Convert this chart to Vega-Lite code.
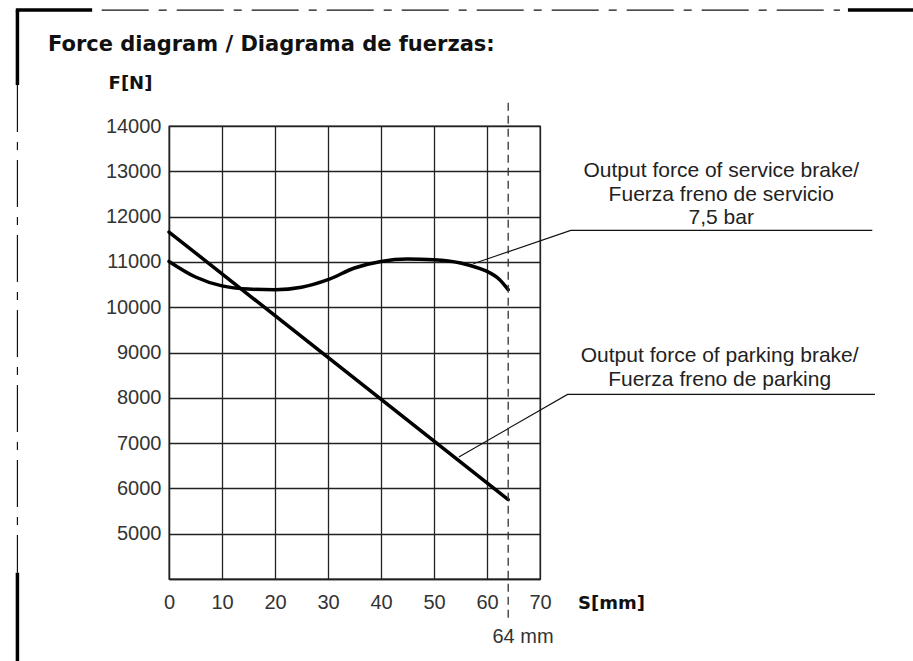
{
  "$schema": "https://vega.github.io/schema/vega-lite/v6.json",
  "autosize": "none",
  "width": 371,
  "height": 453,
  "padding": {"left": 169, "top": 126, "right": 373, "bottom": 82},
  "background": "white",
  "config": {
    "view": {"stroke": "#222", "strokeWidth": 1.3},
    "axis": {
      "labelFont": "Liberation Sans",
      "labelFontSize": 20,
      "labelColor": "#333",
      "labelFlush": false,
      "gridColor": "#222",
      "gridOpacity": 1,
      "gridWidth": 1.3,
      "domainColor": "#222",
      "domainWidth": 1.3,
      "ticks": false,
      "tickSize": 0,
      "titleFont": "DejaVu Sans",
      "titleFontSize": 18,
      "titleFontWeight": "bold",
      "titleColor": "#111"
    }
  },
  "title": {
    "text": "Force diagram / Diagrama de fuerzas:",
    "anchor": "start",
    "frame": "group",
    "dx": -121,
    "dy": 51,
    "font": "DejaVu Sans",
    "fontSize": 21,
    "fontWeight": "bold",
    "color": "#111"
  },
  "datasets": {
    "service": [
      {"s": 0, "f": 11010},
      {"s": 5, "f": 10667},
      {"s": 10, "f": 10470},
      {"s": 15, "f": 10400},
      {"s": 20, "f": 10385},
      {"s": 25, "f": 10440},
      {"s": 30, "f": 10607},
      {"s": 35, "f": 10865},
      {"s": 40, "f": 11011},
      {"s": 45, "f": 11064},
      {"s": 50, "f": 11049},
      {"s": 55, "f": 10976},
      {"s": 58.7, "f": 10850},
      {"s": 60, "f": 10790},
      {"s": 62.4, "f": 10607},
      {"s": 64, "f": 10386}
    ],
    "parking": [
      {"s": 0, "f": 11660},
      {"s": 64, "f": 5750}
    ],
    "leaders": [
      {"leader": "service", "ord": 1, "s": 57.4, "f": 10960},
      {"leader": "service", "ord": 2, "s": 75.8, "f": 11695},
      {"leader": "service", "ord": 3, "s": 132.7, "f": 11695},
      {"leader": "parking", "ord": 1, "s": 54.7, "f": 6693},
      {"leader": "parking", "ord": 2, "s": 75.2, "f": 8075},
      {"leader": "parking", "ord": 3, "s": 133.2, "f": 8075}
    ],
    "labels": [
      {"text": "Output force of service brake/", "s": 104.2, "f": 12998},
      {"text": "Fuerza freno de servicio", "s": 104.2, "f": 12483},
      {"text": "7,5 bar", "s": 104.2, "f": 11969},
      {"text": "Output force of parking brake/", "s": 103.9, "f": 8914},
      {"text": "Fuerza freno de parking", "s": 103.9, "f": 8400}
    ],
    "stroke64": [{"s": 64, "f": 14514, "f2": 3146}],
    "mark64": [{"text": "64 mm", "s": 66.8, "f": 2727}],
    "frameThick": [
      {"s": -28.6, "s2": -28.6, "f": 16559, "f2": 14904},
      {"s": -28.6, "s2": -28.6, "f": 4139, "f2": 2100},
      {"s": -28.9, "s2": -14.5, "f": 16559, "f2": 16559},
      {"s": 128.1, "s2": 141, "f": 16559, "f2": 16559}
    ],
    "frameDash": [
      {"s": -28.6, "s2": -28.6, "f": 14904, "f2": 4139},
      {"s": -12.7, "s2": 126.6, "f": 16559, "f2": 16559}
    ]
  },
  "layer": [
    {
      "data": {"name": "service"},
      "mark": {"type": "line", "color": "#000", "strokeWidth": 3.5, "interpolate": "monotone", "strokeCap": "round"},
      "encoding": {
        "x": {
          "field": "s", "type": "quantitative",
          "scale": {"domain": [0, 70], "nice": false, "zero": false},
          "axis": {
            "values": [0, 10, 20, 30, 40, 50, 60, 70],
            "labelPadding": 13,
            "title": "S[mm]",
            "titleAnchor": "start",
            "titleX": 442,
            "titleY": 24,
            "titleAlign": "center",
            "titleBaseline": "middle"
          }
        },
        "y": {
          "field": "f", "type": "quantitative",
          "scale": {"domain": [4000, 14000], "nice": false, "zero": false},
          "axis": {
            "values": [4000, 5000, 6000, 7000, 8000, 9000, 10000, 11000, 12000, 13000, 14000],
            "labelExpr": "datum.value == 4000 ? '' : format(datum.value, 'd')",
            "labelPadding": 8,
            "title": "F[N]",
            "titleAngle": 0,
            "titleX": -39,
            "titleY": -43,
            "titleAlign": "center",
            "titleBaseline": "middle"
          }
        }
      }
    },
    {
      "data": {"name": "parking"},
      "mark": {"type": "line", "color": "#000", "strokeWidth": 3.5, "strokeCap": "round"},
      "encoding": {
        "x": {"field": "s", "type": "quantitative"},
        "y": {"field": "f", "type": "quantitative"}
      }
    },
    {
      "data": {"name": "stroke64"},
      "mark": {"type": "rule", "color": "#333", "strokeWidth": 1.3, "strokeDash": [8, 5], "clip": false},
      "encoding": {
        "x": {"field": "s", "type": "quantitative"},
        "y": {"field": "f", "type": "quantitative"},
        "y2": {"field": "f2"}
      }
    },
    {
      "data": {"name": "leaders"},
      "mark": {"type": "line", "color": "#111", "strokeWidth": 1.1, "clip": false},
      "encoding": {
        "x": {"field": "s", "type": "quantitative"},
        "y": {"field": "f", "type": "quantitative"},
        "detail": {"field": "leader"},
        "order": {"field": "ord", "type": "quantitative"}
      }
    },
    {
      "data": {"name": "labels"},
      "mark": {"type": "text", "font": "Liberation Sans", "fontSize": 21, "color": "#222", "align": "center", "baseline": "middle", "clip": false},
      "encoding": {
        "x": {"field": "s", "type": "quantitative"},
        "y": {"field": "f", "type": "quantitative"},
        "text": {"field": "text"}
      }
    },
    {
      "data": {"name": "mark64"},
      "mark": {"type": "text", "font": "Liberation Sans", "fontSize": 20, "color": "#333", "align": "center", "baseline": "middle", "clip": false},
      "encoding": {
        "x": {"field": "s", "type": "quantitative"},
        "y": {"field": "f", "type": "quantitative"},
        "text": {"field": "text"}
      }
    },
    {
      "data": {"name": "frameThick"},
      "mark": {"type": "rule", "color": "#000", "strokeWidth": 3.5, "clip": false},
      "encoding": {
        "x": {"field": "s", "type": "quantitative"},
        "x2": {"field": "s2"},
        "y": {"field": "f", "type": "quantitative"},
        "y2": {"field": "f2"}
      }
    },
    {
      "data": {"name": "frameDash"},
      "mark": {"type": "rule", "color": "#111", "strokeWidth": 1.2, "strokeDash": [47, 10, 8, 10], "clip": false},
      "encoding": {
        "x": {"field": "s", "type": "quantitative"},
        "x2": {"field": "s2"},
        "y": {"field": "f", "type": "quantitative"},
        "y2": {"field": "f2"}
      }
    }
  ]
}
